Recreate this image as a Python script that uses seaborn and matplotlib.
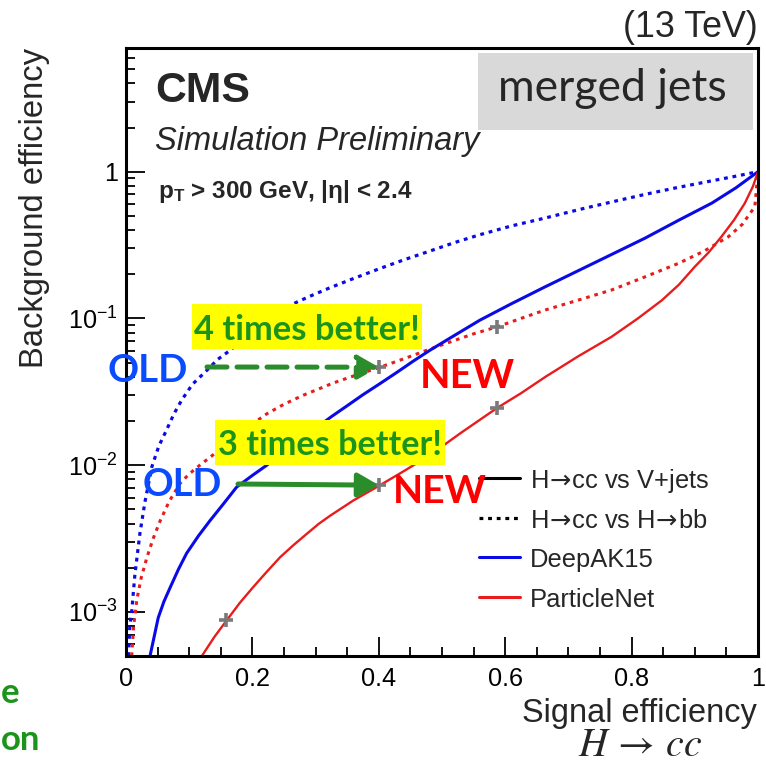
import matplotlib
matplotlib.use("Agg")
import numpy as np
import pandas as pd
import seaborn as sns
import matplotlib.pyplot as plt
from matplotlib.lines import Line2D
from matplotlib.patches import Rectangle
from matplotlib.ticker import FixedLocator, FixedFormatter, LogLocator, MultipleLocator, NullFormatter

# ---------------- data ----------------
sig_dak15_vjets = [0.038, 0.051, 0.060, 0.070, 0.083, 0.096, 0.115, 0.133, 0.155, 0.175, 0.200,
                   0.223, 0.250, 0.275, 0.300, 0.325, 0.350, 0.375, 0.400, 0.428, 0.455, 0.481,
                   0.520, 0.560, 0.610, 0.663, 0.720, 0.770, 0.821, 0.875, 0.927, 0.965, 1.0]
bkg_dak15_vjets = [5.0e-4, 9.12e-4, 1.175e-3, 1.469e-3, 1.95e-3, 2.51e-3, 3.31e-3, 4.19e-3,
                   5.50e-3, 7.08e-3, 8.51e-3, 1.0e-2, 1.23e-2, 1.48e-2, 1.78e-2, 2.14e-2, 2.54e-2,
                   3.02e-2, 3.55e-2, 4.27e-2, 5.13e-2, 6.07e-2, 7.67e-2, 9.73e-2, 0.126, 0.164,
                   0.216, 0.275, 0.352, 0.468, 0.611, 0.776, 1.0]

sig_dak15_hbb = [0.004, 0.006, 0.009, 0.014, 0.022, 0.030, 0.041, 0.052, 0.064, 0.076, 0.088,
                 0.105, 0.128, 0.145, 0.165, 0.190, 0.215, 0.240, 0.265, 0.290, 0.323, 0.360,
                 0.402, 0.440, 0.481, 0.520, 0.560, 0.610, 0.663, 0.720, 0.770, 0.821, 0.870,
                 0.920, 0.960, 1.0]
bkg_dak15_hbb = [5.0e-4, 7.94e-4, 1.0e-3, 1.78e-3, 3.42e-3, 5.62e-3, 9.77e-3, 1.35e-2, 1.73e-2,
                 2.24e-2, 2.77e-2, 3.55e-2, 4.43e-2, 5.25e-2, 6.07e-2, 7.59e-2, 9.23e-2, 0.110,
                 0.126, 0.141, 0.162, 0.187, 0.219, 0.251, 0.288, 0.329, 0.372, 0.427, 0.483,
                 0.556, 0.624, 0.700, 0.776, 0.855, 0.923, 1.0]

sig_pnet_vjets = [0.120, 0.140, 0.159, 0.180, 0.201, 0.222, 0.244, 0.265, 0.286, 0.305, 0.323,
                  0.360, 0.402, 0.440, 0.481, 0.530, 0.587, 0.625, 0.663, 0.715, 0.768, 0.810,
                  0.848, 0.875, 0.900, 0.922, 0.942, 0.962, 0.979, 0.992, 1.0]
bkg_pnet_vjets = [5.0e-4, 6.76e-4, 8.71e-4, 1.15e-3, 1.47e-3, 1.86e-3, 2.36e-3, 2.85e-3, 3.40e-3,
                  3.98e-3, 4.52e-3, 5.75e-3, 7.30e-3, 9.12e-3, 1.17e-2, 1.66e-2, 2.45e-2, 3.09e-2,
                  3.98e-2, 5.50e-2, 7.48e-2, 0.100, 0.133, 0.170, 0.225, 0.282, 0.360, 0.468,
                  0.608, 0.794, 1.0]

sig_pnet_hbb = [0.009, 0.012, 0.017, 0.024, 0.033, 0.043, 0.054, 0.068, 0.085, 0.100, 0.117,
                0.135, 0.150, 0.175, 0.200, 0.223, 0.250, 0.280, 0.300, 0.328, 0.365, 0.402,
                0.440, 0.476, 0.520, 0.550, 0.587, 0.625, 0.663, 0.720, 0.768, 0.820, 0.874,
                0.915, 0.953, 0.975, 0.995, 1.0]
bkg_pnet_hbb = [5.0e-4, 7.94e-4, 1.2e-3, 1.7e-3, 2.34e-3, 3.16e-3, 4.17e-3, 5.62e-3, 7.46e-3,
                8.71e-3, 1.0e-2, 1.15e-2, 1.29e-2, 1.58e-2, 1.91e-2, 2.24e-2, 2.60e-2, 2.99e-2,
                3.24e-2, 3.63e-2, 4.12e-2, 4.65e-2, 5.31e-2, 6.07e-2, 7.08e-2, 7.85e-2, 8.75e-2,
                0.100, 0.114, 0.135, 0.156, 0.191, 0.237, 0.288, 0.360, 0.437, 0.577, 1.0]

# working points (grey crosses)
wp_sig = [0.159, 0.40, 0.587, 0.40, 0.587]
wp_bkg = [8.8e-4, 7.3e-3, 0.0245, 0.0465, 0.0875]

legend_labels = [r"H$\!\rightarrow\!$cc vs V+jets", r"H$\!\rightarrow\!$cc vs H$\!\rightarrow\!$bb",
                 "DeepAK15", "ParticleNet"]
x_ticks = [0, 0.2, 0.4, 0.6, 0.8, 1.0]
x_tick_labels = ["0", "0.2", "0.4", "0.6", "0.8", "1"]
y_ticks = [1e-3, 1e-2, 1e-1, 1]
y_tick_labels = [r"$10^{-3}$", r"$10^{-2}$", r"$10^{-1}$", "1"]

# ---------------- style ----------------
sns.set_style("ticks")
plt.rcParams['font.family'] = ['Liberation Sans', 'DejaVu Sans']
plt.rcParams['mathtext.fontset'] = 'custom'
plt.rcParams['mathtext.rm'] = 'Liberation Sans'
plt.rcParams['mathtext.it'] = 'Liberation Sans:italic'
plt.rcParams['mathtext.bf'] = 'Liberation Sans:bold'

BLUE = '#0a0ae6'
RED = '#e81c1c'
GREEN_TXT = '#1b941b'
GREEN_ARR = '#2a8c2a'
OLD_BLUE = '#0a4bff'
NEW_RED = '#ff0000'
SLIDE = ['Lato', 'DejaVu Sans']

W, H = 766, 765
fig = plt.figure(figsize=(W / 100, H / 100), dpi=100)
fig.patch.set_facecolor('white')
renderer = fig.canvas.get_renderer()


def fx(px):
    return px / W


def fy(py):
    return 1 - py / H


def fit(t, target, vertical=False):
    for _ in range(2):
        bb = t.get_window_extent(renderer)
        w = bb.height if vertical else bb.width
        t.set_fontsize(t.get_fontsize() * target / w)
    return t


ax = fig.add_axes([fx(126), fy(656), 632 / W, (656 - 47.7) / H])
ax.set_yscale('log')

frames = []
for name, xs, ys in [("dak15_hbb", sig_dak15_hbb, bkg_dak15_hbb),
                     ("pnet_hbb", sig_pnet_hbb, bkg_pnet_hbb),
                     ("dak15_vjets", sig_dak15_vjets, bkg_dak15_vjets),
                     ("pnet_vjets", sig_pnet_vjets, bkg_pnet_vjets)]:
    frames.append(pd.DataFrame({"curve": name, "sig": xs, "bkg": ys}))
df = pd.concat(frames, ignore_index=True)

styles = {
    "dak15_hbb": dict(color=BLUE, lw=2.3, linestyle=(0, (1.2, 1.5))),
    "pnet_hbb": dict(color=RED, lw=2.2, linestyle=(0, (1.2, 1.6))),
    "dak15_vjets": dict(color=BLUE, lw=2.2, linestyle='-'),
    "pnet_vjets": dict(color=RED, lw=1.7, linestyle='-'),
}
for name, st in styles.items():
    sub = df[df.curve == name]
    sns.lineplot(data=sub, x="sig", y="bkg", ax=ax, sort=False, estimator=None,
                 legend=False, clip_on=True, **st)

sns.scatterplot(x=wp_sig, y=wp_bkg, ax=ax, marker='+', s=110, color='#7a7a7a',
                linewidth=2.6, zorder=5, legend=False)

ax.set_xlim(0, 1)
ax.set_ylim(5e-4, 7)
ax.set_xlabel("")
ax.set_ylabel("")
ax.xaxis.set_major_locator(FixedLocator(x_ticks))
ax.xaxis.set_major_formatter(FixedFormatter(x_tick_labels))
ax.xaxis.set_minor_locator(MultipleLocator(0.05))
ax.yaxis.set_major_locator(FixedLocator(y_ticks))
ax.yaxis.set_major_formatter(FixedFormatter(y_tick_labels))
ax.yaxis.set_minor_locator(LogLocator(base=10, subs=np.arange(2, 10)))
ax.yaxis.set_minor_formatter(NullFormatter())

probe = fig.text(0, 0, "0.2", fontsize=18)
fit(probe, 35)
tick_fs = probe.get_fontsize()
probe.remove()

ax.tick_params(which='both', direction='in', top=False, right=False, colors='black',
               labelsize=tick_fs, width=1.3)
ax.tick_params(which='major', length=13.5)
ax.tick_params(which='minor', length=6.8)
ax.tick_params(axis='x', pad=8)
ax.tick_params(axis='y', pad=6)
for sp in ax.spines.values():
    sp.set_linewidth(2.2)
    sp.set_color('black')
    sp.set_visible(True)

# ---------------- CMS texts ----------------
t = fig.text(fx(758), fy(37), "(13 TeV)", ha='right', va='baseline', fontsize=25)
fit(t, 135)
t = fig.text(fx(155), fy(101.7), "CMS", ha='left', va='baseline', fontsize=30, fontweight='bold')
fit(t, 95)
t = fig.text(fx(155), fy(150), "Simulation Preliminary", ha='left', va='baseline', fontsize=23,
             fontstyle='italic')
fit(t, 325)
t = fig.text(fx(158), fy(198), r"$\mathbf{p_{T}}$ > 300 GeV, |$\mathbf{\eta}$| < 2.4", ha='left',
             va='baseline', fontsize=17, fontweight='bold')
fit(t, 254)

# merged jets box
fig.add_artist(Rectangle((fx(478), fy(130)), (753 - 478) / W, (130 - 53) / H,
                         transform=fig.transFigure, facecolor='#d9d9d9', edgecolor='none', zorder=3))
t = fig.text(fx(612.5), fy(101), "merged jets", ha='center', va='baseline', fontsize=27,
             family=SLIDE, zorder=4)
fit(t, 229)

# axis labels
t = fig.text(fx(35), fy(48), "Background efficiency", rotation=90, ha='center', va='top', fontsize=23)
fit(t, 320, vertical=True)
t = fig.text(fx(757), fy(722), "Signal efficiency", ha='right', va='baseline', fontsize=23)
fit(t, 235)
t = fig.text(fx(640), fy(756), r"$H\,\rightarrow\,cc$", ha='center', va='baseline', fontsize=22,
             math_fontfamily='stix')
fit(t, 124)

# legend (drawn manually, ROOT style)
leg_styles = [dict(color='black', lw=2.2, ls='-'),
              dict(color='black', lw=2.3, ls=(0, (1.2, 1.5))),
              dict(color=BLUE, lw=2.2, ls='-'),
              dict(color=RED, lw=2.2, ls='-')]
leg_rows = [478, 518, 557, 597]
leg_texts = []
for lab, st, row in zip(legend_labels, leg_styles, leg_rows):
    fig.add_artist(Line2D([fx(479), fx(520)], [fy(row), fy(row)], transform=fig.transFigure, **st))
    leg_texts.append(fig.text(fx(530), fy(row + 10), lab, ha='left', va='baseline', fontsize=18.5,
                              math_fontfamily='dejavusans'))
fit(leg_texts[3], 125)
for txt in leg_texts:
    txt.set_fontsize(leg_texts[3].get_fontsize())

# ---------------- slide annotations ----------------
def boxed(px0, py0, px1, py1, text, base, tw):
    fig.add_artist(Rectangle((fx(px0), fy(py1)), (px1 - px0) / W, (py1 - py0) / H,
                             transform=fig.transFigure, facecolor='#ffff00', edgecolor='none', zorder=6))
    tt = fig.text(fx((px0 + px1) / 2), fy(base), text, ha='center', va='baseline', fontsize=24,
                  fontweight='bold', color=GREEN_TXT, family=SLIDE, zorder=7)
    fit(tt, tw)
    return tt


b1 = boxed(192, 304, 422, 349, "4 times better!", 340, 226)
boxed(215, 420, 445, 465, "3 times better!", 455, 225)

for px, base, w in [(148, 381.7, 80), (182.5, 496, 79)]:
    tt = fig.text(fx(px), fy(base), "OLD", ha='center', va='baseline', fontsize=28, fontweight='bold',
                  color=OLD_BLUE, family=SLIDE, zorder=7)
    fit(tt, w)
for px, base, w in [(467.5, 388, 95), (440, 502.7, 94)]:
    tt = fig.text(fx(px), fy(base), "NEW", ha='center', va='baseline', fontsize=28, fontweight='bold',
                  color=NEW_RED, family=SLIDE, zorder=7)
    fit(tt, w)

# arrows pointing to the working points
arrow_common = dict(arrowstyle='-|>,head_length=0.7,head_width=0.4', color=GREEN_ARR, lw=3.6,
                    shrinkA=0, shrinkB=0, mutation_scale=18)
ax.annotate("", xy=(wp_sig[3], wp_bkg[3]), xycoords='data',
            xytext=(fx(207), fy(367)), textcoords='figure fraction',
            arrowprops=dict(linestyle=(0, (4, 2)), **arrow_common), zorder=8)
ax.annotate("", xy=(wp_sig[1], wp_bkg[1]), xycoords='data',
            xytext=(fx(238), fy(484)), textcoords='figure fraction',
            arrowprops=dict(**arrow_common), zorder=8)

# slide text fragments at the bottom left
fs_b = 25
fig.text(fx(1), fy(703), "e", ha='left', va='baseline', fontsize=fs_b, fontweight='bold',
         color=GREEN_TXT, family=SLIDE)
fig.text(fx(1), fy(750), "on", ha='left', va='baseline', fontsize=fs_b, fontweight='bold',
         color=GREEN_TXT, family=SLIDE)

fig.savefig("out.png", dpi=100, facecolor='white')
